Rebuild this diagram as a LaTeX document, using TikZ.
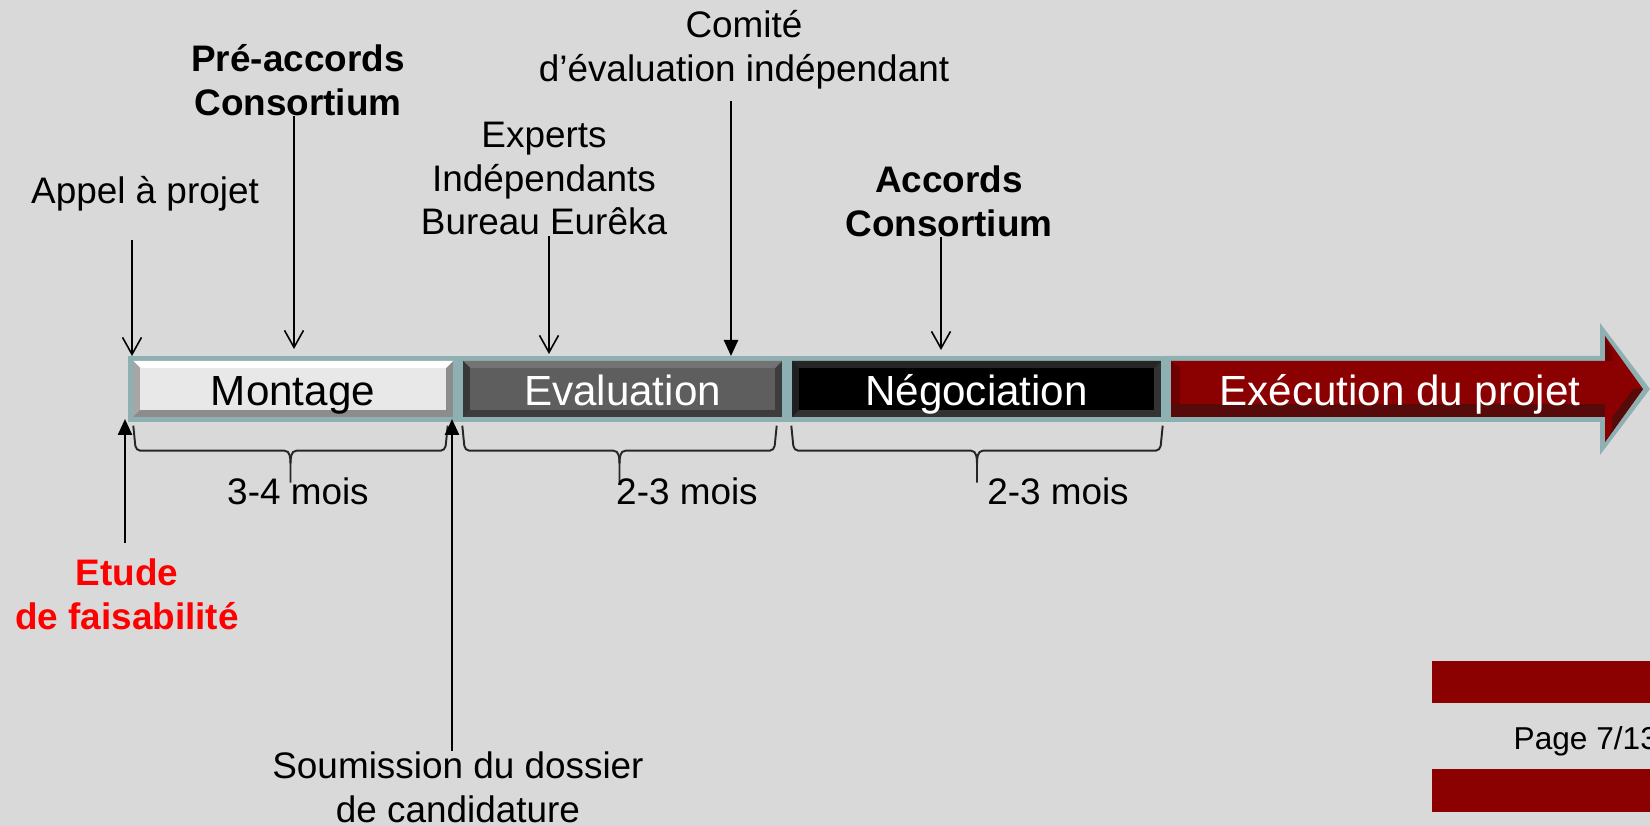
\documentclass[tikz,border=0pt]{standalone}
\usepackage{fontspec}
\setmainfont{Liberation Sans}
\usepackage{tikz}
\usetikzlibrary{calc,arrows.meta}
\definecolor{bgc}{HTML}{D9D9D9}
\definecolor{rim}{HTML}{8FB0B2}
\definecolor{redface}{HTML}{8B0000}
\definecolor{reddark}{HTML}{560A0A}
\definecolor{redside}{HTML}{6E0000}
\tikzset{
  lbl/.style={inner sep=0pt, align=center, font=\fontsize{10.5}{12.5}\selectfont},
  lblb/.style={lbl, font=\fontsize{10.5}{12.5}\selectfont\bfseries},
  seglbl/.style={inner sep=0pt, minimum height=0.66cm, text height=8.6pt, text depth=0pt, font=\fontsize{12}{14}\selectfont},
  barb/.style={-{Straight Barb[length=1.7mm,width=1.9mm]}, line width=0.45pt},
  tri/.style={-{Triangle[length=1.6mm,width=1.4mm]}, line width=0.7pt},
  brc/.style={line width=0.55pt, black!85}
}
% x1, x2, face, top, side, bottom
\def\bevelseg#1#2#3#4#5#6{%
  \fill[rim] (#1,-3.56) rectangle (#2,-4.22);
  \fill[#6] (#1+0.05,-3.61) rectangle (#2-0.05,-4.17);
  \fill[#4] (#1+0.05,-3.61) -- (#2-0.05,-3.61) -- (#2-0.12,-3.68) -- (#1+0.12,-3.68) -- cycle;
  \fill[#5] (#1+0.05,-3.61) -- (#1+0.12,-3.68) -- (#1+0.12,-4.10) -- (#1+0.05,-4.17) -- cycle;
  \fill[#3] (#1+0.12,-3.68) rectangle (#2-0.12,-4.10);
}
% brace between two named points, tip pointing down
\def\moisbrace#1#2{%
  \draw[brc] (#1) -- ($(#1)+(0.02,-0.20)$) to[out=-80,in=180] ($(#1)+(0.07,-0.25)$) -- ($(#1)!0.5!(#2)+(-0.06,-0.25)$) to[out=0,in=90] ($(#1)!0.5!(#2)+(0,-0.38)$) -- ($(#1)!0.5!(#2)+(0,-0.57)$);
  \draw[brc] (#2) -- ($(#2)+(-0.02,-0.20)$) to[out=-100,in=0] ($(#2)+(-0.07,-0.25)$) -- ($(#1)!0.5!(#2)+(0.06,-0.25)$) to[out=180,in=90] ($(#1)!0.5!(#2)+(0,-0.38)$);
}
\begin{document}
\begin{tikzpicture}
			%%%%% START %%%%%
			\clip (0,0) rectangle (16.5,-8.26);
			\fill[bgc] (0,0) rectangle (16.5,-8.26);
			
			% the bar
			\bevelseg{1.28}{4.58}{black!9}{white}{black!35}{black!45}
			\bevelseg{4.58}{7.87}{black!63}{black!55}{black!78}{black!76}
			\bevelseg{7.87}{11.66}{black}{black!85}{black!88}{black!80}
			
			\fill[rim] (11.66,-3.56) -- (16.00,-3.56) -- (16.00,-3.23) -- (16.50,-3.89) -- (16.00,-4.55) -- (16.00,-4.22) -- (11.66,-4.22) -- cycle;
			\fill[redface] (11.71,-3.61) -- (16.05,-3.61) -- (16.05,-3.36) -- (16.43,-3.89) -- (16.05,-4.42) -- (16.05,-4.17) -- (11.71,-4.17) -- cycle;
			\fill[reddark] (11.71,-4.04) rectangle (16.05,-4.17);
			\fill[redside] (11.71,-3.61) -- (11.80,-3.68) -- (11.80,-4.04) -- (11.71,-4.04) -- cycle;
			\fill[reddark] (16.05,-4.42) -- (16.43,-3.89) -- (16.33,-3.89) -- (16.12,-4.18) -- (16.12,-4.30) -- cycle;
			\fill[redside] (16.05,-3.36) -- (16.12,-3.52) -- (16.12,-3.61) -- (16.05,-3.61) -- cycle;
			
			\node[seglbl, minimum width=3.30cm] (montage) at (2.93,-3.90) {Montage};
			\node[seglbl, minimum width=3.29cm, text=white] (evaluation) at (6.225,-3.90) {Evaluation};
			\node[seglbl, minimum width=3.79cm, text=white] (negociation) at (9.765,-3.90) {Négociation};
			\node[seglbl, text=white] (execution) at (14.0,-3.90) {Exécution du projet};
			
			% braces
			\coordinate (b1l) at ([xshift=0.06cm,yshift=-0.02cm]montage.south west);
			\coordinate (b1r) at ([xshift=-0.11cm,yshift=-0.02cm]montage.south east);
			\coordinate (b2l) at ([xshift=0.05cm,yshift=-0.02cm]evaluation.south west);
			\coordinate (b2r) at ([xshift=-0.11cm,yshift=-0.02cm]evaluation.south east);
			\coordinate (b3l) at ([xshift=0.05cm,yshift=-0.02cm]negociation.south west);
			\coordinate (b3r) at ([xshift=-0.04cm,yshift=-0.02cm]negociation.south east);
			\moisbrace{b1l}{b1r}
			\moisbrace{b2l}{b2r}
			\moisbrace{b3l}{b3r}
			
			\node[lbl] (mois1) at (2.98,-4.91) {3-4 mois};
			\node[lbl] (mois2) at (6.87,-4.91) {2-3 mois};
			\node[lbl] (mois3) at (10.58,-4.91) {2-3 mois};
			
			% labels above
			\node[lbl] (appel) at (1.45,-1.94) {Appel à projet};
			\node[lblb] (preacc) at (2.98,-0.80) {Pré-accords\\Consortium};
			\node[lbl] (experts) at (5.44,-1.785) {Experts\\Indépendants\\Bureau Eurêka};
			\node[lbl] (comite) at (7.44,-0.495) {Comité\\d’évaluation indépendant};
			\node[lblb] (accords) at (9.49,-2.01) {Accords\\Consortium};
			
			% labels below
			\node[lblb, text=red] (etude) at (1.27,-5.94) {Etude\\de faisabilité};
			\node[lbl] (soumission) at (4.58,-7.87) {Soumission du dossier\\de candidature};
			
			\coordinate (tAppel) at (1.32,-3.56);
			\coordinate (tPre) at (2.94,-3.49);
			\coordinate (tExp) at (5.49,-3.54);
			\coordinate (tCom) at (7.31,-3.56);
			\coordinate (tAcc) at (9.41,-3.50);
			\coordinate (tEtu) at (1.25,-4.19);
			\coordinate (tSou) at (4.52,-4.19);
			
			\draw[barb] ($(appel.south -| tAppel)+(0,-0.28)$) -- (tAppel);
			\draw[barb] (preacc.south -| tPre) -- (tPre);
			\draw[barb] (experts.south -| tExp) -- (tExp);
			\draw[tri] ($(comite.south -| tCom)+(0,-0.11)$) -- (tCom);
			\draw[barb] (accords.south -| tAcc) -- (tAcc);
			\draw[tri] ($(etude.north -| tEtu)+(0,0.15)$) -- (tEtu);
			\draw[tri] (soumission.north -| tSou) -- (tSou);
			
			% page mark
			\fill[redface] (14.32,-6.61) rectangle (16.5,-7.03);
			\fill[redface] (14.32,-7.69) rectangle (16.5,-8.12);
			\node[anchor=base west, inner sep=0pt, font=\fontsize{9}{11}\selectfont] (page) at (15.13,-7.49) {Page 7/13};
			%%%%% END %%%%%
\end{tikzpicture}
\end{document}
